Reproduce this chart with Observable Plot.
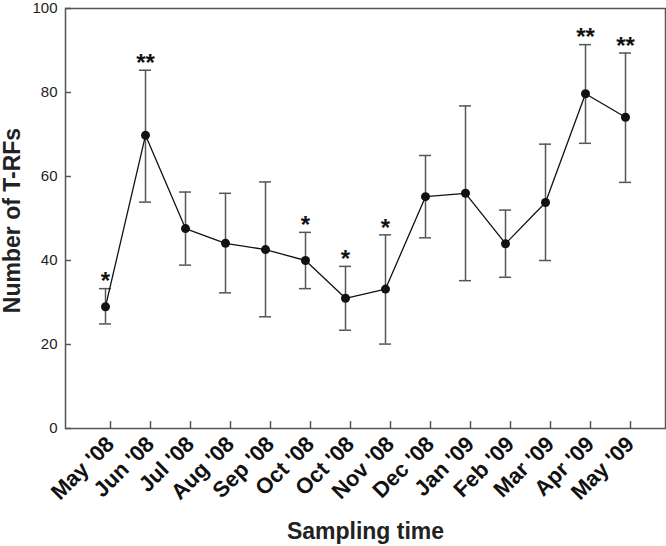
<!DOCTYPE html>
<html>
<head>
<meta charset="utf-8">
<script src="https://cdn.jsdelivr.net/npm/d3@7"></script>
<script src="https://cdn.jsdelivr.net/npm/@observablehq/plot@0.6"></script>
<style>
  html, body { margin: 0; padding: 0; background: #fff; }
</style>
</head>
<body>
<div id="chart"></div>
<script>
const months = ["May '08","Jun '08","Jul '08","Aug '08","Sep '08","Oct '08","Oct '08","Nov '08","Dec '08","Jan '09","Feb '09","Mar '09","Apr '09","May '09"];
const means  = [29.0, 69.8, 47.6, 44.1, 42.6, 40.0, 31.0, 33.2, 55.2, 56.0, 44.0, 53.8, 79.7, 74.1];
const upper  = [33.3, 85.3, 56.3, 56.0, 58.7, 46.7, 38.6, 46.1, 65.0, 76.8, 52.0, 67.7, 91.4, 89.4];
const lower  = [24.9, 53.9, 38.9, 32.3, 26.6, 33.3, 23.4, 20.1, 45.4, 35.2, 36.0, 40.0, 67.9, 58.6];
const signif = ["*", "**", "", "", "", "*", "*", "*", "", "", "", "", "**", "**"];
const yTicks = [0, 20, 40, 60, 80, 100];

const data = months.map((m, i) => ({i, m, mean: means[i], hi: upper[i], lo: lower[i], sig: signif[i]}));

const chart = Plot.plot({
  width: 666,
  height: 546,
  marginLeft: 65,
  marginRight: 1,
  marginTop: 8,
  marginBottom: 118,
  style: {fontFamily: "'Liberation Sans', Arial, sans-serif", background: "#fff", color: "#000"},
  x: {type: "band", domain: data.map(d => d.i), paddingInner: 0.7, paddingOuter: 0.85},
  y: {domain: [0, 100]},
  marks: [
    Plot.frame({stroke: "#555", strokeWidth: 1.5}),
    Plot.axisY({ticks: yTicks, tickSize: -6, tickPadding: 14, stroke: "#555", strokeWidth: 1.5, fontSize: 15, fill: "#222", label: null}),
    Plot.axisX({tickSize: -7, tickPadding: 19, dx: 5, tickRotate: -45, textAnchor: "end", stroke: "#555", strokeWidth: 1.5,
      tickFormat: i => months[i], fontSize: 22, fontWeight: "bold", fill: "#111", label: null}),
    Plot.ruleX(data, {x: "i", y1: "lo", y2: "hi", stroke: "#555", strokeWidth: 1.5}),
    Plot.tickY(data, {x: "i", y: "hi", stroke: "#555", strokeWidth: 1.5}),
    Plot.tickY(data, {x: "i", y: "lo", stroke: "#555", strokeWidth: 1.5}),
    Plot.lineY(data, {x: "i", y: "mean", stroke: "#111", strokeWidth: 1.3}),
    Plot.dot(data, {x: "i", y: "mean", r: 4.5, fill: "#111", stroke: "none"}),
    Plot.text(data.filter(d => d.sig), {x: "i", y: "hi", text: "sig", fontSize: 24, fontWeight: "bold", fill: "#111", lineAnchor: "middle", dy: -7}),
    Plot.text(["Sampling time"], {frameAnchor: "bottom", dy: 110, fontSize: 23, fontWeight: "bold", fill: "#222"}),
    Plot.text(["Number of T-RFs"], {frameAnchor: "left", textAnchor: "middle", dx: -53, dy: 2, rotate: -90, fontSize: 23, fontWeight: "bold", fill: "#222"})
  ]
});
document.getElementById("chart").appendChild(chart);
</script>
</body>
</html>
